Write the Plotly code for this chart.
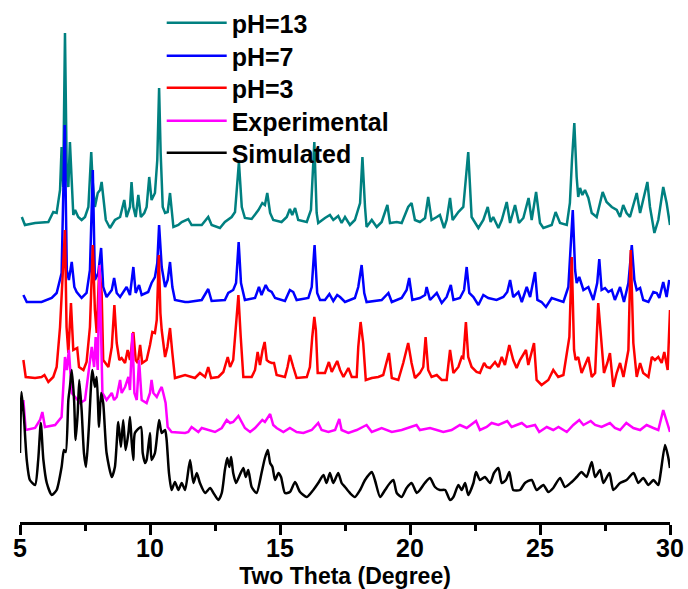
import plotly.graph_objects as go

# Powder XRD patterns, 2-theta in degrees, intensity in arbitrary units
# (each pattern is relative to its own baseline; offsets stack them)

ph13_theta = [5.07, 5.19, 5.58, 6.09, 6.28, 6.41, 6.54, 6.60, 6.66, 6.73, 6.80, 6.86, 6.92, 7.01, 7.05, 7.12, 7.24, 7.37, 7.50, 7.63,
              7.69, 7.74, 7.79, 7.88, 7.99, 8.08, 8.14, 8.20, 8.30, 8.46, 8.65, 8.85, 9.01, 9.10, 9.23, 9.29, 9.36, 9.45, 9.55, 9.65,
              9.78, 9.87, 9.97, 10.06, 10.19, 10.28, 10.35, 10.41, 10.49, 10.58, 10.68, 10.77, 10.83, 10.90, 11.09, 11.22, 11.47, 11.60, 11.99, 12.24,
              12.37, 12.69, 12.88, 13.14, 13.27, 13.42, 13.53, 13.65, 13.91, 14.17, 14.32, 14.42, 14.51, 14.62, 14.74, 15.06, 15.26, 15.38, 15.47, 15.58,
              15.70, 16.03, 16.19, 16.32, 16.41, 16.47, 16.73, 16.92, 17.05, 17.24, 17.37, 17.50, 17.69, 17.88, 18.08, 18.17, 18.27, 18.33, 18.53, 18.72,
              18.91, 19.13, 19.23, 19.49, 19.68, 19.93, 20.06, 20.19, 20.38, 20.58, 20.70, 20.83, 21.03, 21.15, 21.31, 21.41, 21.54, 21.64, 21.86, 22.05,
              22.24, 22.37, 22.63, 22.82, 22.99, 23.10, 23.20, 23.40, 23.53, 23.72, 23.85, 24.04, 24.19, 24.36, 24.56, 24.68, 24.85, 25.00, 25.13, 25.45,
              25.60, 25.77, 26.03, 26.15, 26.23, 26.32, 26.41, 26.47, 26.54, 26.63, 26.73, 26.86, 26.99, 27.18, 27.41, 27.56, 27.76, 27.95, 28.08, 28.20,
              28.33, 28.46, 28.72, 28.85, 29.13, 29.23, 29.40, 29.55, 29.74, 29.87, 30.00]
ph13_counts = [5, -3, -1, 0, 10, 9, 32, 75, 35, 189, 45, 35, 80, 29, 7, 12, 5, 2, 5, 15,
               45, 70, 42, 15, 29, 32, 40, 25, 2, -6, 2, 5, 22, 5, 15, 40, 15, 5, 27, 5,
               9, 15, 45, 22, 29, 62, 134, 69, 15, 9, 10, 29, 9, -5, -3, 0, 3, -3, -3, 5,
               -3, -6, 0, 5, 10, 60, 15, 4, 3, 12, 19, 17, 29, 9, 2, 0, 5, 13, 7, 14,
               2, 0, 12, 80, 9, -1, 4, 7, 2, 6, -1, 5, -3, 2, 19, 65, 15, -5, 2, -5,
               0, 17, -1, 0, -1, 15, 19, 2, 0, 4, 25, 2, 5, 7, -6, 2, 24, 2, 10, 15,
               70, 5, -6, 2, 15, 0, 5, -6, 2, 20, -1, 17, -1, 4, 24, 2, 30, -1, -6, -3,
               10, -1, -3, 19, 62, 99, 45, 25, 34, 27, 32, 24, 9, 5, 30, 20, 15, 12, 5, 17,
               9, 5, 29, 9, 40, 15, -11, 2, 35, 19, -3]

ph7_theta = [5.13, 5.26, 5.83, 6.22, 6.41, 6.54, 6.60, 6.72, 6.80, 6.88, 6.99, 7.09, 7.18, 7.37, 7.56, 7.69, 7.80, 7.88, 8.01, 8.12,
             8.20, 8.33, 8.53, 8.62, 8.72, 8.85, 8.97, 9.10, 9.23, 9.36, 9.45, 9.58, 9.68, 9.93, 10.06, 10.19, 10.28, 10.35, 10.45, 10.58,
             10.68, 10.77, 10.86, 10.96, 11.35, 11.47, 11.99, 12.24, 12.37, 12.88, 13.01, 13.20, 13.31, 13.41, 13.50, 13.65, 14.04, 14.19, 14.29, 14.45,
             14.55, 14.68, 14.81, 15.19, 15.38, 15.51, 15.64, 16.09, 16.22, 16.33, 16.43, 16.54, 16.73, 16.90, 17.05, 17.20, 17.31, 17.50, 17.88, 18.01,
             18.14, 18.24, 18.33, 18.91, 19.17, 19.30, 19.68, 19.87, 19.97, 20.09, 20.38, 20.58, 20.64, 20.77, 21.03, 21.22, 21.41, 21.57, 21.67, 21.92,
             22.08, 22.18, 22.28, 22.44, 22.63, 22.82, 23.01, 23.33, 23.59, 23.74, 23.85, 23.97, 24.17, 24.30, 24.49, 24.62, 24.81, 24.90, 25.06, 25.23,
             25.45, 25.64, 25.90, 26.09, 26.18, 26.26, 26.35, 26.41, 26.51, 26.67, 26.86, 27.05, 27.20, 27.28, 27.37, 27.50, 27.63, 27.76, 27.88, 28.08,
             28.23, 28.40, 28.53, 28.63, 28.72, 28.85, 28.97, 29.17, 29.36, 29.49, 29.59, 29.74, 29.87, 29.97]
ph7_counts = [5, -2, -2, 2, 7, 20, 27, 175, 30, 20, 38, 13, 8, 2, 7, 30, 130, 20, 27, 52,
              13, 3, 10, 22, 7, 3, 8, 13, 5, 33, 7, 15, 5, 8, 17, 23, 37, 75, 33, 13,
              20, 38, 13, 0, -2, -2, 0, 11, -1, 0, 7, 10, 17, 58, 17, 0, 2, 13, 5, 15,
              10, 8, 2, -1, 10, 8, 0, 2, 13, 55, 7, 0, 0, 6, -1, 5, 3, -2, 2, 13,
              35, 7, -2, 0, 7, -2, 2, 10, 22, 0, 2, 5, 13, 0, 7, -3, 3, 15, 0, 2,
              10, 33, 7, 3, -5, 5, 2, 0, 3, 8, 20, 3, 8, -2, 13, 3, 28, 0, -2, -7,
              2, 0, -2, 13, 50, 90, 30, 17, 23, 10, 13, 0, 17, 41, 10, 12, 8, 10, 0, 13,
              -2, 17, 55, 20, 10, 12, 0, -2, 8, 7, 2, 18, 3, 20]

ph3_theta = [5.13, 5.22, 5.58, 5.83, 5.94, 6.09, 6.28, 6.41, 6.54, 6.73, 6.79, 6.86, 6.96, 7.05, 7.20, 7.27, 7.44, 7.56, 7.69, 7.80,
             7.88, 7.95, 8.05, 8.14, 8.20, 8.40, 8.53, 8.63, 8.72, 8.82, 8.91, 9.04, 9.14, 9.23, 9.36, 9.45, 9.53, 9.62, 9.70, 9.87,
             10.00, 10.09, 10.19, 10.26, 10.34, 10.40, 10.45, 10.58, 10.67, 10.77, 10.86, 10.96, 11.35, 11.73, 11.92, 12.12, 12.24, 12.35, 12.63, 12.82,
             12.99, 13.08, 13.20, 13.33, 13.40, 13.49, 13.59, 13.91, 14.04, 14.14, 14.23, 14.33, 14.41, 14.49, 14.58, 14.68, 14.77, 14.87, 15.19, 15.29,
             15.38, 15.51, 15.64, 16.03, 16.15, 16.24, 16.32, 16.38, 16.45, 16.73, 16.88, 16.99, 17.20, 17.31, 17.44, 17.63, 17.76, 17.95, 18.01, 18.10,
             18.20, 18.30, 18.53, 18.78, 18.97, 19.19, 19.30, 19.55, 19.74, 19.93, 20.06, 20.19, 20.38, 20.51, 20.60, 20.70, 20.83, 21.03, 21.22, 21.41,
             21.54, 21.67, 21.86, 21.99, 22.05, 22.15, 22.24, 22.37, 22.56, 22.69, 22.85, 22.95, 23.08, 23.27, 23.40, 23.53, 23.65, 23.82, 23.97, 24.10,
             24.23, 24.46, 24.55, 24.77, 24.87, 25.06, 25.32, 25.51, 25.70, 25.90, 26.03, 26.13, 26.22, 26.31, 26.37, 26.47, 26.60, 26.73, 26.86, 26.99,
             27.12, 27.24, 27.37, 27.46, 27.59, 27.69, 27.82, 27.95, 28.08, 28.21, 28.40, 28.49, 28.59, 28.72, 28.85, 28.97, 29.17, 29.30, 29.42, 29.55,
             29.68, 29.78, 29.91, 30.00]
ph3_counts = [17, 0, -1, 0, 2, -5, 0, 10, 50, 147, 50, 24, 74, 27, 29, 10, 7, 15, 50, 132,
              67, 44, 109, 84, 17, 10, 30, 72, 34, 17, 19, 14, 27, 17, 45, 17, 14, 32, 14, 17,
              32, 45, 44, 57, 122, 64, 47, 20, 30, 49, 24, -1, 2, -1, 4, 0, 10, -1, 0, 5,
              20, 10, 17, 57, 82, 40, 0, 0, 7, 25, 12, 27, 35, 17, 15, 14, 14, 2, 0, 10,
              22, 10, -1, 0, 10, 40, 60, 47, 4, 4, 15, 5, 16, 7, 0, 9, 0, 0, 30, 55,
              34, -3, -1, 0, 2, 24, -1, -3, 14, 34, 14, -1, 4, 10, 40, 7, 0, 2, -3, -3,
              27, 4, 10, 20, 19, 55, 20, 10, 5, 4, 14, 10, 9, 15, 10, 20, 12, 32, 17, 9,
              17, 27, 12, 34, -3, -8, -3, 7, 0, 2, 24, 40, 120, 27, 17, 20, 4, 12, 20, 0,
              4, 74, 34, 4, 14, 24, -10, 4, 14, 0, 27, 127, 34, 0, 14, 4, 0, 20, 17, 20,
              14, 25, 7, 67]

exp_theta = [5.13, 5.22, 5.58, 5.77, 5.86, 5.96, 6.35, 6.60, 6.73, 6.80, 6.88, 6.99, 7.12, 7.31, 7.50, 7.65, 7.76, 7.85, 7.91, 7.99,
             8.06, 8.17, 8.33, 8.53, 8.62, 8.72, 8.85, 8.91, 9.04, 9.17, 9.23, 9.32, 9.40, 9.49, 9.58, 9.68, 9.87, 10.00, 10.06, 10.13,
             10.26, 10.38, 10.45, 10.51, 10.60, 10.68, 10.83, 11.35, 11.47, 11.60, 11.86, 11.99, 12.24, 12.50, 12.76, 12.95, 13.08, 13.20, 13.40, 13.53,
             13.65, 13.85, 14.04, 14.32, 14.42, 14.62, 14.74, 14.87, 15.13, 15.38, 15.64, 15.90, 16.22, 16.47, 16.60, 16.86, 17.12, 17.28, 17.37, 17.63,
             17.95, 18.33, 18.53, 18.91, 19.30, 19.68, 19.93, 20.25, 20.38, 20.77, 21.03, 21.28, 21.60, 21.92, 22.18, 22.54, 22.69, 22.95, 23.14, 23.40,
             23.74, 23.91, 24.10, 24.30, 24.49, 24.81, 24.97, 25.26, 25.51, 25.71, 26.03, 26.28, 26.51, 26.67, 26.95, 27.12, 27.37, 27.69, 27.88, 28.08,
             28.32, 28.59, 28.85, 29.10, 29.36, 29.55, 29.74, 29.87, 30.00]
exp_counts = [30, 0, 2, 10, 18, 3, 5, 13, 73, 60, 80, 37, 33, 27, 30, 60, 83, 63, 93, 60,
              165, 37, 30, 37, 30, 33, 50, 37, 43, 53, 40, 97, 37, 30, 70, 30, 27, 37, 50, 37,
              33, 40, 43, 37, 27, 3, -2, -3, -2, 3, -2, 2, 0, -2, 2, 10, 7, 8, 14, 7,
              2, -2, 2, 10, 8, 16, 5, 2, -2, 2, -2, -3, 0, 7, 0, -2, 0, 11, 0, -3,
              0, 5, -2, 2, -2, 0, 2, 5, 0, 2, 0, -2, 0, 5, 2, 9, 0, 3, 7, 5,
              9, 3, 5, 7, 3, 5, -2, 3, 0, 3, -2, 5, 10, 5, 9, 5, 3, 7, 2, 0,
              7, 2, 0, 5, 2, 0, 20, 10, -2]

sim_theta = [5.00, 5.06, 5.15, 5.26, 5.38, 5.58, 5.70, 5.80, 5.90, 6.03, 6.22, 6.41, 6.60, 6.69, 6.76, 6.86, 6.92, 6.99, 7.08, 7.14,
             7.22, 7.28, 7.37, 7.46, 7.54, 7.65, 7.78, 7.88, 7.95, 8.04, 8.12, 8.20, 8.33, 8.53, 8.65, 8.78, 8.88, 8.97, 9.06, 9.17,
             9.23, 9.29, 9.36, 9.42, 9.65, 9.72, 9.81, 9.87, 10.00, 10.06, 10.19, 10.35, 10.45, 10.58, 10.64, 10.73, 10.83, 10.96, 11.09, 11.22,
             11.35, 11.54, 11.67, 11.80, 11.92, 12.12, 12.31, 12.44, 12.63, 12.76, 12.88, 12.97, 13.05, 13.12, 13.20, 13.31, 13.42, 13.59, 13.68, 13.78,
             13.91, 14.10, 14.29, 14.42, 14.53, 14.62, 14.71, 14.81, 14.94, 15.04, 15.19, 15.38, 15.58, 15.77, 16.03, 16.28, 16.47, 16.67, 16.79, 16.92,
             17.05, 17.24, 17.37, 17.50, 17.69, 17.88, 18.08, 18.27, 18.53, 18.65, 18.85, 19.04, 19.23, 19.36, 19.49, 19.68, 19.87, 20.06, 20.26, 20.38,
             20.57, 20.77, 20.96, 21.15, 21.35, 21.54, 21.67, 21.86, 21.99, 22.12, 22.24, 22.44, 22.54, 22.69, 22.88, 23.08, 23.23, 23.40, 23.53, 23.69,
             23.82, 23.97, 24.23, 24.42, 24.68, 24.87, 25.13, 25.32, 25.51, 25.77, 25.96, 26.22, 26.41, 26.60, 26.79, 26.99, 27.12, 27.31, 27.44, 27.67,
             27.82, 28.08, 28.33, 28.60, 28.78, 28.97, 29.17, 29.36, 29.55, 29.64, 29.81, 29.93, 30.00]
sim_counts = [37, 98, 73, 30, 10, 5, 30, 67, 30, 7, -5, 0, 23, 40, 38, 90, 103, 120, 90, 50,
              77, 110, 80, 37, 23, 63, 120, 103, 113, 63, 97, 87, 37, 13, 23, 68, 43, 70, 40, 57,
              73, 50, 30, 57, 63, 37, 27, 30, 57, 30, 37, 70, 57, 60, 50, 17, 0, 8, 0, 7,
              0, 30, 7, 17, 7, -3, 2, -3, -10, -3, 20, 32, 23, 33, 17, 7, 13, 22, 13, 20,
              3, -3, 17, 32, 40, 27, 23, 10, 17, 13, -3, -2, 8, -2, -7, 0, 7, 15, 7, 17,
              7, 17, 7, 3, -3, -7, 0, 10, 18, 10, -7, 0, 7, 10, -3, -7, 2, 7, -3, 0,
              7, 12, 3, 0, 0, -10, -7, 5, 0, 7, -5, 7, 18, 10, 13, 7, 17, 22, 7, 10,
              18, 0, 0, 7, 10, 0, 5, -2, 2, 12, 3, 8, 13, 18, 13, 28, 13, 20, 7, 17,
              0, 7, 10, 17, 7, 12, 5, 10, 5, 17, 45, 33, 22]

series_names = ["pH=13", "pH=7", "pH=3", "Experimental", "Simulated"]
series_theta = [ph13_theta, ph7_theta, ph3_theta, exp_theta, sim_theta]
series_counts = [ph13_counts, ph7_counts, ph3_counts, exp_counts, sim_counts]
series_offsets = [300, 222, 145, 92, 32]
series_colors = ["#008080", "#0000FF", "#FF0000", "#FF00FF", "#000000"]
# the calculated pattern is a smooth profile, the measured ones are raw scans
series_shapes = ["linear", "linear", "linear", "linear", "spline"]

x_ticks = [5, 10, 15, 20, 25, 30]

FONT = "Liberation Sans, Arial, sans-serif"
PLOT_H = 522                      # plot-area height in px (t=0 margin)
legend_rows_px = [23, 56, 88, 121, 153]   # centre of each legend row from the top

fig = go.Figure()
legend_ids = ["legend", "legend2", "legend3", "legend4", "legend5"]
for i, (name, th, cnt, off, col, shp) in enumerate(zip(
        series_names, series_theta, series_counts, series_offsets,
        series_colors, series_shapes)):
    fig.add_trace(go.Scatter(
        x=th, y=[c + off for c in cnt], name=name, mode="lines",
        line=dict(color=col, width=2.5, shape=shp, smoothing=0.6),
        legend=legend_ids[i], showlegend=True, hoverinfo="x+name",
    ))

legend_font = dict(family=FONT, size=25, weight="bold", color="black")
legend_layout = {}
for lid, row in zip(legend_ids, legend_rows_px):
    legend_layout[lid] = dict(
        x=0.218, y=(PLOT_H - row) / PLOT_H, xanchor="left", yanchor="middle",
        bgcolor="rgba(0,0,0,0)", borderwidth=0, font=legend_font,
        itemwidth=60, visible=True,
    )

fig.update_layout(
    width=688, height=589,
    showlegend=True,
    margin=dict(l=20, r=18, t=0, b=589 - PLOT_H),
    paper_bgcolor="white", plot_bgcolor="white",
    font=dict(family=FONT, color="black"),
    xaxis=dict(
        range=[5, 30], tickmode="array", tickvals=x_ticks,
        ticktext=[str(t) for t in x_ticks],
        ticks="outside", ticklen=10, tickwidth=2.5, tickcolor="black",
        minor=dict(dtick=2.5, tick0=5, ticks="outside", ticklen=6,
                   tickwidth=2.5, tickcolor="black"),
        showline=True, linewidth=3, linecolor="black",
        showgrid=False, zeroline=False, automargin=False,
        tickfont=dict(family=FONT, size=25, weight="bold", color="black"),
        ticklabelstandoff=-8,
        title=dict(text="Two Theta (Degree)", standoff=13,
                   font=dict(family=FONT, size=23, weight="bold", color="black")),
    ),
    yaxis=dict(range=[0, PLOT_H], visible=False, fixedrange=True),
    **legend_layout,
)

fig.write_html("out.html")
